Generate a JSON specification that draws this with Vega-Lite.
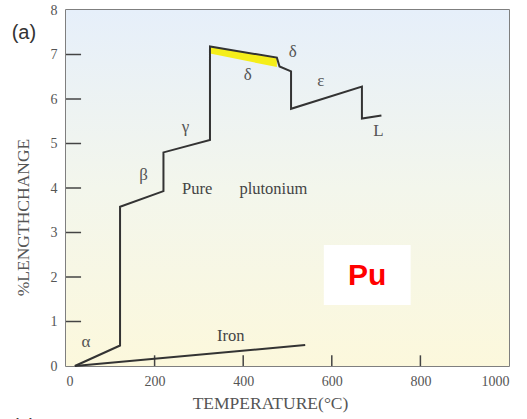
{
  "$schema": "https://vega.github.io/schema/vega-lite/v6.json",
  "width": 443,
  "height": 356,
  "autosize": "none",
  "padding": {"left": 66, "top": 10, "right": 18, "bottom": 53},
  "background": "white",
  "config": {
    "view": {"stroke": "#555555", "strokeWidth": 1.5},
    "axis": {
      "grid": false,
      "domain": false,
      "ticks": false,
      "labelFont": "Liberation Serif",
      "labelFontSize": 14,
      "labelColor": "#555555",
      "titleFont": "Liberation Serif",
      "titleFontSize": 17.5,
      "titleFontWeight": "normal",
      "titleColor": "#555555"
    }
  },
  "datasets": {
    "bg": [{"x": 0, "x2": 1000, "y": 0, "y2": 8}],
    "xticks": [{"t": 200}, {"t": 400}, {"t": 600}, {"t": 800}],
    "yticks": [{"v": 1}, {"v": 2}, {"v": 3}, {"v": 4}, {"v": 5}, {"v": 6}, {"v": 7}],
    "band": [
      {"t": 325, "top": 7.18, "bot": 7.02},
      {"t": 476, "top": 6.94, "bot": 6.72}
    ],
    "pu": [
      {"i": 0, "t": 20, "v": 0.0},
      {"i": 1, "t": 122, "v": 0.46},
      {"i": 2, "t": 122, "v": 3.58},
      {"i": 3, "t": 220, "v": 3.93},
      {"i": 4, "t": 220, "v": 4.8},
      {"i": 5, "t": 325, "v": 5.08},
      {"i": 6, "t": 325, "v": 7.18},
      {"i": 7, "t": 476, "v": 6.93},
      {"i": 8, "t": 482, "v": 6.73},
      {"i": 9, "t": 508, "v": 6.62},
      {"i": 10, "t": 508, "v": 5.78},
      {"i": 11, "t": 668, "v": 6.28},
      {"i": 12, "t": 668, "v": 5.56},
      {"i": 13, "t": 712, "v": 5.63}
    ],
    "iron": [
      {"i": 0, "t": 20, "v": 0.0},
      {"i": 1, "t": 540, "v": 0.47}
    ],
    "labels": [
      {"t": 45, "v": 0.55, "txt": "α"},
      {"t": 175, "v": 4.3, "txt": "β"},
      {"t": 270, "v": 5.38, "txt": "γ"},
      {"t": 410, "v": 6.55, "txt": "δ"},
      {"t": 512, "v": 7.05, "txt": "δ"},
      {"t": 575, "v": 6.4, "txt": "ε"},
      {"t": 705, "v": 5.28, "txt": "L"}
    ],
    "words": [
      {"t": 296, "v": 3.98, "txt": "Pure"},
      {"t": 468, "v": 3.98, "txt": "plutonium"},
      {"t": 372, "v": 0.68, "txt": "Iron"}
    ],
    "box": [{"x": 582, "x2": 778, "y": 1.37, "y2": 2.72}],
    "pu_label": [{"t": 680, "v": 2.02, "txt": "Pu"}],
    "outer": [
      {"t": -95, "v": 7.48, "txt": "(a)"},
      {"t": -95, "v": -1.38, "txt": "(c)"}
    ]
  },
  "layer": [
    {
      "data": {"name": "bg"},
      "mark": {
        "type": "rect",
        "color": {
          "gradient": "linear",
          "x1": 0, "y1": 0, "x2": 0, "y2": 1,
          "stops": [
            {"offset": 0, "color": "#e6effa"},
            {"offset": 0.5, "color": "#f3f6ec"},
            {"offset": 1, "color": "#fcf8dc"}
          ]
        }
      },
      "encoding": {
        "x": {
          "field": "x", "type": "quantitative",
          "scale": {"domain": [0, 1000], "nice": false},
          "axis": {
            "values": [0, 200, 400, 600, 800, 1000],
            "format": "d",
            "labelPadding": 8,
            "title": "TEMPERATURE(°C)",
            "titleX": 204,
            "titlePadding": 6
          }
        },
        "x2": {"field": "x2"},
        "y": {
          "field": "y", "type": "quantitative",
          "scale": {"domain": [0, 8], "nice": false},
          "axis": {
            "values": [0, 1, 2, 3, 4, 5, 6, 7, 8],
            "labelPadding": 9,
            "title": "%LENGTHCHANGE",
            "titleY": 207,
            "titlePadding": 18
          }
        },
        "y2": {"field": "y2"}
      }
    },
    {
      "data": {"name": "xticks"},
      "mark": {"type": "rule", "color": "#444444", "strokeWidth": 1.5},
      "encoding": {
        "x": {"field": "t", "type": "quantitative"},
        "y": {"datum": 0},
        "y2": {"datum": 0.24}
      }
    },
    {
      "data": {"name": "yticks"},
      "mark": {"type": "rule", "color": "#444444", "strokeWidth": 1.5},
      "encoding": {
        "y": {"field": "v", "type": "quantitative"},
        "x": {"datum": 0},
        "x2": {"datum": 34}
      }
    },
    {
      "data": {"name": "band"},
      "mark": {"type": "area", "color": "#f5ee1a", "opacity": 1},
      "encoding": {
        "x": {"field": "t", "type": "quantitative"},
        "y": {"field": "top", "type": "quantitative"},
        "y2": {"field": "bot"}
      }
    },
    {
      "data": {"name": "pu"},
      "mark": {"type": "line", "color": "#333333", "strokeWidth": 2},
      "encoding": {
        "x": {"field": "t", "type": "quantitative"},
        "y": {"field": "v", "type": "quantitative"},
        "order": {"field": "i"}
      }
    },
    {
      "data": {"name": "iron"},
      "mark": {"type": "line", "color": "#333333", "strokeWidth": 2},
      "encoding": {
        "x": {"field": "t", "type": "quantitative"},
        "y": {"field": "v", "type": "quantitative"},
        "order": {"field": "i"}
      }
    },
    {
      "data": {"name": "labels"},
      "mark": {"type": "text", "font": "Liberation Serif", "fontSize": 17, "color": "#555555"},
      "encoding": {
        "x": {"field": "t", "type": "quantitative"},
        "y": {"field": "v", "type": "quantitative"},
        "text": {"field": "txt"}
      }
    },
    {
      "data": {"name": "words"},
      "mark": {"type": "text", "font": "Liberation Serif", "fontSize": 16.5, "color": "#444444"},
      "encoding": {
        "x": {"field": "t", "type": "quantitative"},
        "y": {"field": "v", "type": "quantitative"},
        "text": {"field": "txt"}
      }
    },
    {
      "data": {"name": "box"},
      "mark": {"type": "rect", "color": "white"},
      "encoding": {
        "x": {"field": "x", "type": "quantitative"},
        "x2": {"field": "x2"},
        "y": {"field": "y", "type": "quantitative"},
        "y2": {"field": "y2"}
      }
    },
    {
      "data": {"name": "pu_label"},
      "mark": {"type": "text", "font": "Liberation Sans", "fontSize": 30, "fontWeight": "bold", "color": "#ff0000"},
      "encoding": {
        "x": {"field": "t", "type": "quantitative"},
        "y": {"field": "v", "type": "quantitative"},
        "text": {"field": "txt"}
      }
    },
    {
      "data": {"name": "outer"},
      "mark": {"type": "text", "font": "Liberation Sans", "fontSize": 20, "color": "#333333"},
      "encoding": {
        "x": {"field": "t", "type": "quantitative"},
        "y": {"field": "v", "type": "quantitative"},
        "text": {"field": "txt"}
      }
    }
  ]
}
